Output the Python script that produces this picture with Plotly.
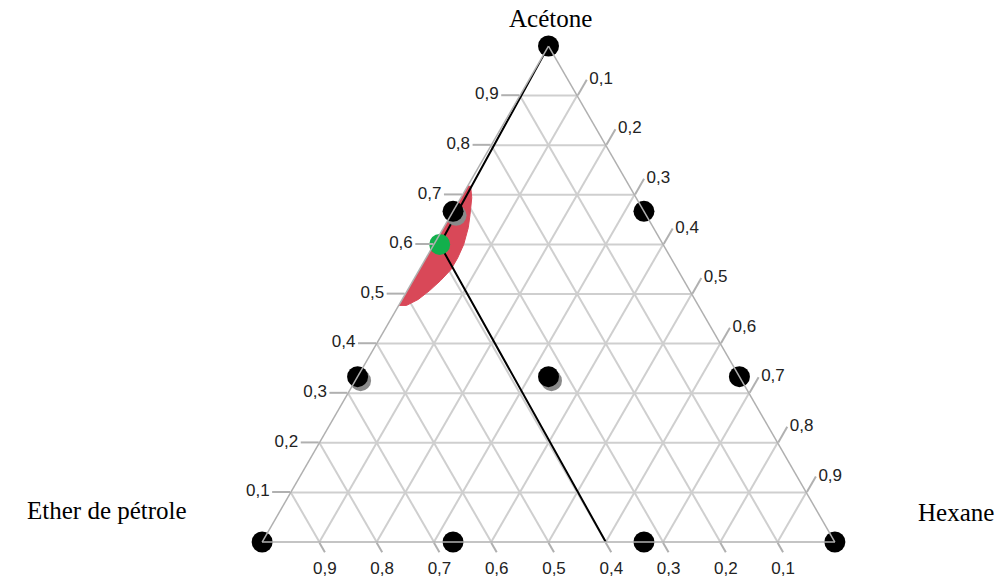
import plotly.graph_objects as go

# ---- data ----
# simplex-lattice design points (Acétone, Ether de pétrole, Hexane)
design_a = [1, 0, 0, 2/3, 1/3, 2/3, 1/3, 0, 0, 1/3]
design_b = [0, 1, 0, 1/3, 2/3, 0, 0, 2/3, 1/3, 1/3]
design_c = [0, 0, 1, 0, 0, 1/3, 2/3, 1/3, 2/3, 1/3]

# optimum point (green)
opt_a = [0.60]
opt_b = [0.39]
opt_c = [0.01]

# black line: Acétone corner -> optimum -> bottom edge at b = 0.4
line_a = [1.0, 0.60, 0.0]
line_b = [0.0, 0.39, 0.40]
line_c = [0.0, 0.01, 0.60]

# red desirability zone (boundary, ternary fractions)
zone_a = [0.718, 0.694, 0.660, 0.634, 0.600, 0.573, 0.549, 0.527, 0.507, 0.489, 0.477, 0.477, 0.600, 0.718]
zone_c = [0.005, 0.019, 0.033, 0.043, 0.052, 0.055, 0.055, 0.048, 0.039, 0.028, 0.0135, 0.0, 0.0, 0.0]
zone_b = [1 - a - c for a, c in zip(zone_a, zone_c)]

tick_vals = [0.1, 0.2, 0.3, 0.4, 0.5, 0.6, 0.7, 0.8, 0.9]
tick_text = ["0,1", "0,2", "0,3", "0,4", "0,5", "0,6", "0,7", "0,8", "0,9"]

corner_titles = ["Acétone", "Ether de pétrole", "Hexane"]

# ---- figure ----
W, H = 1005, 580
ML, MR, MT, MB = 100, 8, 46, 38
TRI_H = H - MT - MB
TRI_W = TRI_H * 2 / 3 ** 0.5

# shadow offset (pixels -> ternary fractions)
sdx, sdy = 3, 4
da = -sdy / TRI_H
dc = sdx / TRI_W + sdy / (2 * TRI_H)
shadow_a = [a + da for a in design_a]
shadow_c = [c + dc for c in design_c]
shadow_b = [1 - a - c for a, c in zip(shadow_a, shadow_c)]

fig = go.Figure()
fig.add_trace(go.Scatterternary(
    a=zone_a, b=zone_b, c=zone_c, mode="lines", fill="toself",
    fillcolor="rgb(217,72,88)", line=dict(color="rgb(217,72,88)", width=1),
    hoverinfo="skip", showlegend=False))
fig.add_trace(go.Scatterternary(
    a=line_a, b=line_b, c=line_c, mode="lines",
    line=dict(color="black", width=2), showlegend=False, cliponaxis=False))
fig.add_trace(go.Scatterternary(
    a=shadow_a, b=shadow_b, c=shadow_c, mode="markers",
    marker=dict(size=21, color="#8a8a8a"), showlegend=False, cliponaxis=False,
    hoverinfo="skip"))
fig.add_trace(go.Scatterternary(
    a=design_a, b=design_b, c=design_c, mode="markers",
    marker=dict(size=21, color="black"), showlegend=False, cliponaxis=False))
fig.add_trace(go.Scatterternary(
    a=opt_a, b=opt_b, c=opt_c, mode="markers",
    marker=dict(size=21, color="#12b04c"), showlegend=False, cliponaxis=False))

axis_style = dict(
    tickmode="array", tickvals=tick_vals, ticktext=tick_text,
    ticks="outside", ticklen=18, tickcolor="#b0b0b0", tickwidth=1.5,
    gridcolor="#cfcfcf", gridwidth=1.5,
    linecolor="#b0b0b0", linewidth=1.5, showline=True,
    tickfont=dict(family="Liberation Sans, Arial, sans-serif", size=17, color="#222"),
    title=dict(text=""),
)
baxis_style = dict(axis_style, ticklen=11)

fig.update_layout(
    width=W, height=H,
    margin=dict(l=ML, r=MR, t=MT, b=MB),
    paper_bgcolor="white",
    ternary=dict(
        sum=1, bgcolor="white",
        domain=dict(x=[0, 1], y=[0, 1]),
        aaxis=axis_style, baxis=baxis_style, caxis=axis_style,
    ),
    showlegend=False,
)

pw, ph = W - ML - MR, H - MT - MB
def px(x):
    return (x - ML) / pw
def py(y):
    return 1 - (y - MT) / ph

title_font = dict(family="Liberation Serif, Times New Roman, serif", size=25, color="black")
fig.add_annotation(text=corner_titles[0], x=px(550), y=py(19), xref="paper", yref="paper",
                   showarrow=False, xanchor="center", yanchor="middle", font=title_font)
fig.add_annotation(text=corner_titles[1], x=px(189), y=py(510), xref="paper", yref="paper",
                   showarrow=False, xanchor="right", yanchor="middle", font=title_font)
fig.add_annotation(text=corner_titles[2], x=px(916), y=py(512), xref="paper", yref="paper",
                   showarrow=False, xanchor="left", yanchor="middle", font=title_font)

fig.write_html("out.html", config={"displayModeBar": False},
               post_script="document.body.style.margin='0';")
